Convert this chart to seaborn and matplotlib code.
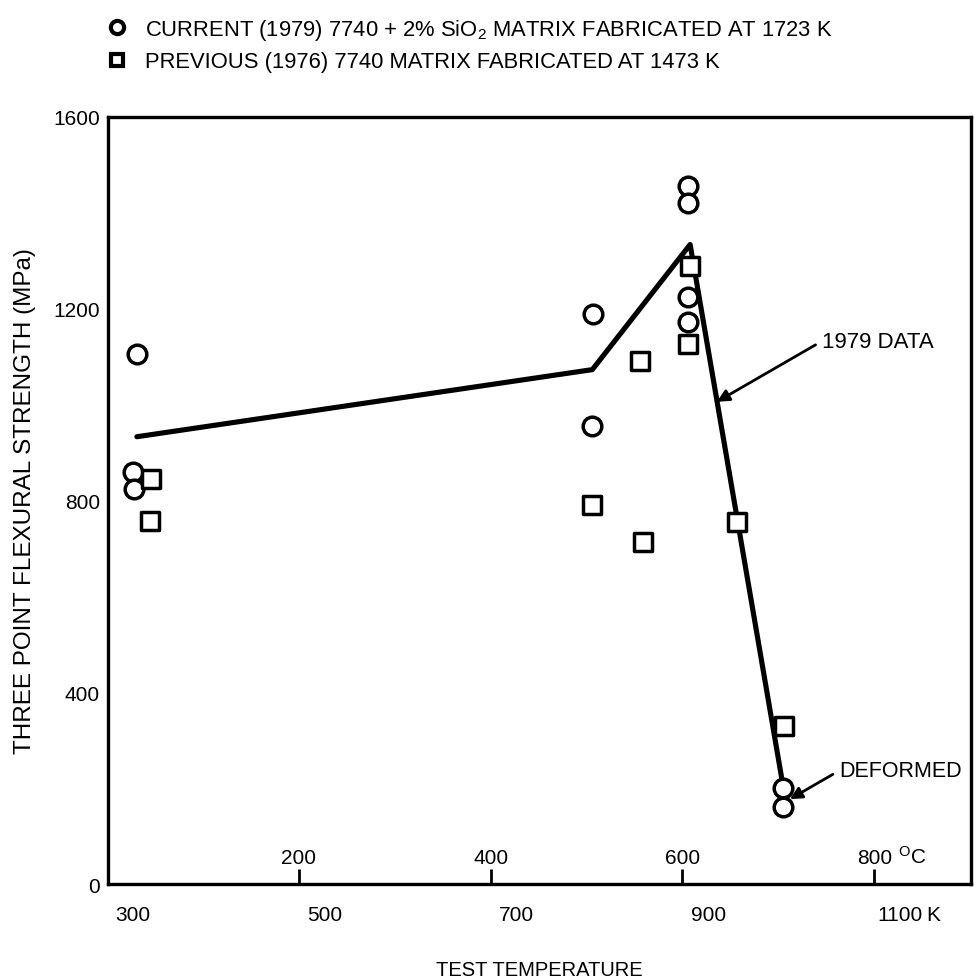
import matplotlib
matplotlib.use("Agg")
import matplotlib.pyplot as plt
from matplotlib.lines import Line2D
import seaborn as sns
import pandas as pd

# Data (temperature in K, strength in MPa)
circle_k = [304, 300, 301, 780, 779, 879, 879, 879, 879, 978, 978]
circle_mpa = [1106, 860, 825, 1188, 956, 1457, 1420, 1225, 1173, 200, 161]
square_k = [319, 318, 779, 829, 832, 881, 879, 930, 979]
square_mpa = [845, 758, 791, 1090, 714, 1290, 1127, 756, 330]
line_k = [304, 779, 881, 977]
line_mpa = [933, 1073, 1334, 215]

k_ticks = [300, 500, 700, 900, 1100]
c_ticks = [200, 400, 600, 800]
y_ticks = [0, 400, 800, 1200, 1600]

label_1979 = "CURRENT (1979) 7740 + 2% SiO$_2$ MATRIX FABRICATED AT 1723 K"
label_1976 = "PREVIOUS (1976) 7740 MATRIX FABRICATED AT 1473 K"

sns.set_theme(style="white")
plt.rcParams["font.family"] = ["Liberation Sans", "DejaVu Sans"]
plt.rcParams["mathtext.fontset"] = "custom"
plt.rcParams["mathtext.rm"] = "Liberation Sans"
plt.rcParams["mathtext.default"] = "regular"
plt.rcParams["text.color"] = "black"
plt.rcParams["axes.labelcolor"] = "black"
plt.rcParams["xtick.color"] = "black"
plt.rcParams["ytick.color"] = "black"

fig = plt.figure(figsize=(9.74, 9.79), dpi=100)
ax = fig.add_axes([0.111, 0.096, 0.886, 0.7835])

df_c = pd.DataFrame({"k": circle_k, "mpa": circle_mpa})
df_s = pd.DataFrame({"k": square_k, "mpa": square_mpa})
df_l = pd.DataFrame({"k": line_k, "mpa": line_mpa})

sns.lineplot(data=df_l, x="k", y="mpa", sort=False, estimator=None,
             color="black", linewidth=3.7, ax=ax, zorder=2)
sns.scatterplot(data=df_c, x="k", y="mpa", marker="o", s=180, color="white",
                edgecolor="black", linewidth=2.5, ax=ax, zorder=3)
sns.scatterplot(data=df_s, x="k", y="mpa", marker="s", s=150, color="white",
                edgecolor="black", linewidth=2.5, ax=ax, zorder=3)

ax.set_xlim(274, 1174)
ax.set_ylim(0, 1600)
for sp in ax.spines.values():
    sp.set_linewidth(2.4)
    sp.set_color("black")

ax.set_yticks(y_ticks)
ax.set_xticks(k_ticks)
ax.tick_params(axis="y", direction="in", length=12, width=2, pad=6, labelsize=15)
ax.tick_params(axis="x", direction="out", length=9, width=2, pad=6, labelsize=15)
ax.set_xlabel("TEST TEMPERATURE", fontsize=14.5, labelpad=26)
ax.set_ylabel("THREE POINT FLEXURAL STRENGTH (MPa)", fontsize=17.5, labelpad=12)

# Celsius scale drawn inside the bottom spine
sec = ax.secondary_xaxis(0, functions=(lambda k: k - 273, lambda c: c + 273))
sec.set_xticks(c_ticks)
sec.tick_params(direction="in", length=11, width=2, pad=-26, labelsize=15)
sec.spines["bottom"].set_visible(False)

ax.annotate("K", xy=(1100, 0), xycoords=("data", "axes fraction"),
            xytext=(19, -26), textcoords="offset points",
            fontsize=15, va="baseline")
ax.annotate("$^{O}$C", xy=(800 + 273, 0), xycoords=("data", "axes fraction"),
            xytext=(17, 15), textcoords="offset points",
            fontsize=15, va="baseline")

# Callouts
arrow = dict(arrowstyle="-|>", color="black", lw=2,
             connectionstyle="angle,angleA=0,angleB=30,rad=0",
             shrinkA=3, shrinkB=0, mutation_scale=18)
ax.annotate("1979 DATA", xy=(909, 1006), xytext=(1019, 1131),
            fontsize=16, va="center", arrowprops=arrow)
ax.annotate("DEFORMED", xy=(985, 177), xytext=(1037, 236),
            fontsize=15.5, va="center", arrowprops=arrow)

handles = [
    Line2D([], [], marker="o", ls="none", mfc="white", mec="black", mew=3, ms=9.5),
    Line2D([], [], marker="s", ls="none", mfc="white", mec="black", mew=3, ms=9),
]
fig.legend(handles, [label_1979, label_1976], loc="upper left",
           bbox_to_anchor=(0.1, 0.991), frameon=False, fontsize=15.8,
           handlelength=1.0, handletextpad=0.75, labelspacing=0.45,
           borderaxespad=0)

fig.savefig("out.png", dpi=100)
